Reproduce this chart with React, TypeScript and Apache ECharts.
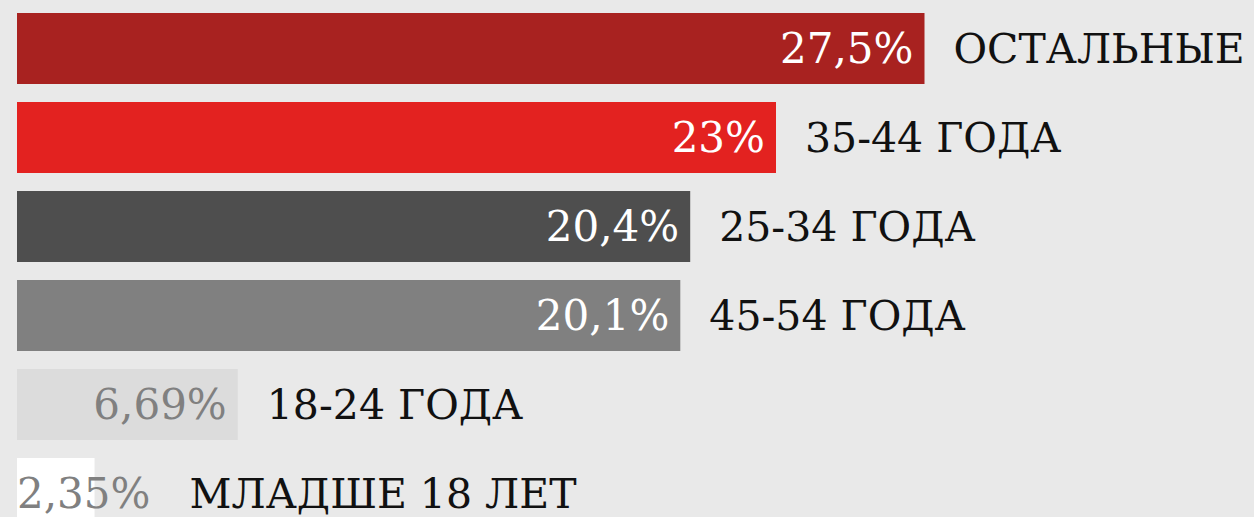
import React, { useEffect, useRef } from "react";
import * as echarts from "echarts";

const categories = ["ОСТАЛЬНЫЕ", "35-44 ГОДА", "25-34 ГОДА", "45-54 ГОДА", "18-24 ГОДА", "МЛАДШЕ 18 ЛЕТ"];
const values = [27.5, 23, 20.4, 20.1, 6.69, 2.35];
const valueLabels = ["27,5%", "23%", "20,4%", "20,1%", "6,69%", "2,35%"];
const barColors = ["#a82220", "#e32220", "#4e4e4e", "#808080", "#dcdcdc", "#ffffff"];
const valueLabelColors = ["#ffffff", "#ffffff", "#ffffff", "#ffffff", "#808080", "#808080"];

const FONT = "'DejaVu Serif', 'Liberation Serif', serif";

export default function App() {
  const ref = useRef<HTMLDivElement>(null);
  useEffect(() => {
    if (!ref.current) return;
    const chart = echarts.init(ref.current, undefined, { renderer: "svg" });
    const last = values.length - 1;
    chart.setOption({
      animation: false,
      backgroundColor: "#e9e9e9",
      grid: { left: 17, width: 990, top: 4, height: 534, containLabel: false },
      xAxis: { type: "value", min: 0, max: 30, show: false },
      yAxis: { type: "category", data: categories, inverse: true, show: false },
      series: [
        {
          type: "bar",
          barCategoryGap: "20%",
          barGap: "-100%",
          data: values.map((v, i) => ({
            value: v,
            itemStyle: { color: barColors[i] },
            label: {
              show: true,
              position: i === last ? "insideLeft" : "insideRight",
              distance: i === last ? 0 : 11,
              color: valueLabelColors[i],
              fontFamily: FONT,
              fontSize: 42,
              formatter: () => valueLabels[i],
            },
          })),
        },
        {
          type: "bar",
          barCategoryGap: "20%",
          barGap: "-100%",
          silent: true,
          data: values.map((v, i) => ({
            value: v,
            itemStyle: { color: "rgba(0,0,0,0)" },
            label: {
              show: true,
              position: "right",
              distance: 29,
              offset: i === last ? [66, 0] : [0, 0],
              color: "#111111",
              fontFamily: FONT,
              fontSize: 41,
              formatter: () => categories[i],
            },
          })),
        },
      ],
    });
    return () => chart.dispose();
  }, []);
  return (
    <div style={{ position: "fixed", left: 0, top: 0, width: 1254, height: 517, overflow: "hidden", background: "#e9e9e9" }}>
      <div ref={ref} style={{ width: 1254, height: 545 }} />
    </div>
  );
}
